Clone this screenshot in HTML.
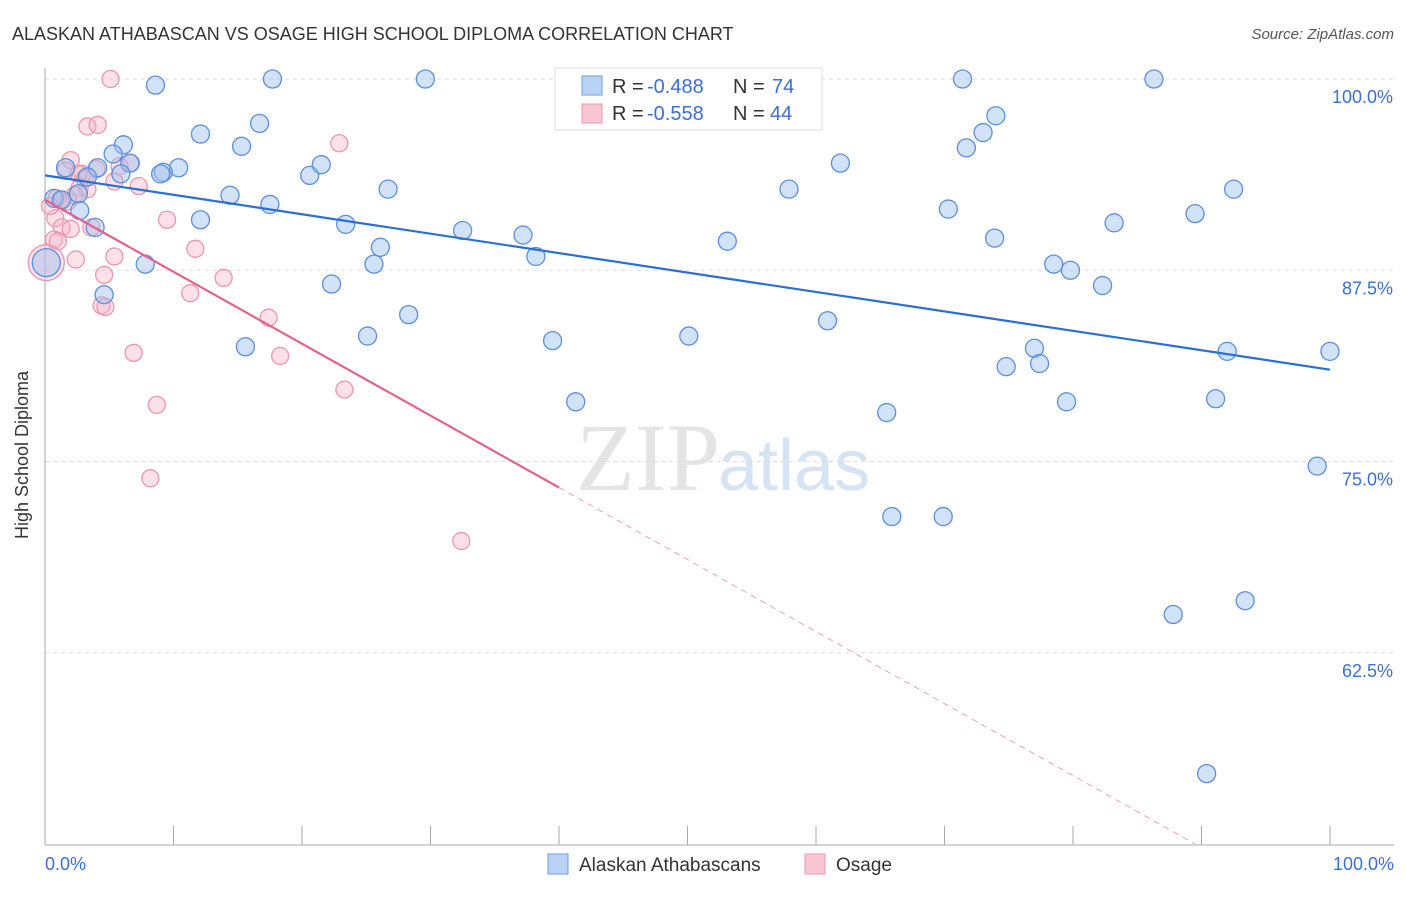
<!DOCTYPE html>
<html><head><meta charset="utf-8"><style>
body{margin:0;background:#fff;font-family:"Liberation Sans",sans-serif}
</style></head><body>
<svg id="chart" width="1406" height="892" xmlns="http://www.w3.org/2000/svg">
<text x="12" y="40" font-size="18" fill="#333">ALASKAN ATHABASCAN VS OSAGE HIGH SCHOOL DIPLOMA CORRELATION CHART</text>
<text x="1394" y="39" font-size="15" fill="#555" font-style="italic" text-anchor="end">Source: ZipAtlas.com</text>
<text x="720" y="490" font-size="96" fill="#e4e4e4" font-family="Liberation Serif,serif" text-anchor="end">ZIP</text>
<text x="718" y="490" font-size="72" fill="#d6e3f5">atlas</text>
<g id="grid"></g>
<g id="axes"></g>
<g id="pts"></g>
<g id="lines"></g>
<text x="28" y="455" font-size="18" fill="#333" text-anchor="middle" transform="rotate(-90 28 455)">High School Diploma</text>
<text x="45" y="870" font-size="18" fill="#3a6fd8">0.0%</text>
<text x="1394" y="870" font-size="18" fill="#3a6fd8" text-anchor="end">100.0%</text>
<g font-size="20">
<rect x="555" y="68" width="267" height="62" fill="#fff" stroke="#ddd"/>
<rect x="582" y="76" width="20" height="19" fill="#b9d2f5" stroke="#6d9de0"/>
<rect x="582" y="104" width="20" height="19" fill="#f9c6d4" stroke="#ec95ae"/>
<text x="612" y="93" fill="#333">R =</text><text x="647" y="93" fill="#3a6fd8">-0.488</text>
<text x="733" y="93" fill="#333">N =</text><text x="772" y="93" fill="#3a6fd8">74</text>
<text x="612" y="120" fill="#333">R =</text><text x="647" y="120" fill="#3a6fd8">-0.558</text>
<text x="733" y="120" fill="#333">N =</text><text x="770" y="120" fill="#3a6fd8">44</text>
</g>
<g>
<rect x="548" y="854" width="20" height="20" fill="#b9d2f5" stroke="#6d9de0"/>
<text x="579" y="871" font-size="19" fill="#333">Alaskan Athabascans</text>
<rect x="805" y="854" width="20" height="20" fill="#f9c6d4" stroke="#ec95ae"/>
<text x="836" y="871" font-size="19" fill="#333">Osage</text>
</g>
</svg>
<script>
const yTicks=[100,87.5,75,62.5];
const yTickLabels=["100.0%","87.5%","75.0%","62.5%"];
const blueX=[8.6,17.7,29.6,71.4,86.3,12.1,16.7,6.1,15.3,5.3,6.6,1.6,4.1,10.4,9.2,9,5.9,3.3,20.6,21.5,61.9,0.7,1.3,2.6,2.7,3.9,14.4,17.5,26.7,57.9,12.1,23.4,32.5,37.2,38.2,26.1,25.6,53.1,70.3,74,73,71.7,89.5,92.5,83.2,73.9,78.5,79.8,82.3,7.8,0.1,4.6,22.3,28.3,25.1,39.5,50.1,60.9,15.6,77,74.8,77.4,92,100,41.3,65.5,79.5,91.1,99,65.9,69.9,87.8,93.4,90.4];
const blueY=[99.6,100,100,100,100,96.4,97.1,95.7,95.6,95.1,94.5,94.2,94.2,94.2,93.9,93.8,93.8,93.6,93.7,94.4,94.5,92.2,92.1,92.5,91.4,90.3,92.4,91.8,92.8,92.8,90.8,90.5,90.1,89.8,88.4,89,87.9,89.4,91.5,97.6,96.5,95.5,91.2,92.8,90.6,89.6,87.9,87.5,86.5,87.9,88,85.9,86.6,84.6,83.2,82.9,83.2,84.2,82.5,82.4,81.2,81.4,82.2,82.2,78.9,78.2,78.9,79.1,74.7,71.4,71.4,65,65.9,54.6];
const blueR=[9,9,9,9,9,9,9,9,9,9,9,9,9,9,9,9,9,9,9,9,9,9,9,9,9,9,9,9,9,9,9,9,9,9,9,9,9,9,9,9,9,9,9,9,9,9,9,9,9,9,14,9,9,9,9,9,9,9,9,9,9,9,9,9,9,9,9,9,9,9,9,9,9,9];
const pinkX=[5.1,3.3,4.1,22.9,6.7,2,2.9,4,1.6,7.3,2.6,2.7,5.4,0.9,1.8,9.5,0.8,1.3,2,3.6,0.7,1,11.7,2.4,5.4,13.9,4.6,11.3,4.4,4.7,17.4,6.9,18.3,23.3,8.7,8.2,32.4,0.1,1.2,3.3,2.3,0.4,3.1,5.8];
const pinkY=[100,96.9,97,95.8,94.5,94.7,93.8,94.1,94,93,93.8,92.9,93.3,92.2,92,90.8,90.9,90.3,90.2,90.3,89.5,89.4,88.9,88.2,88.4,87,87.2,86,85.2,85.1,84.4,82.1,81.9,79.7,78.7,73.9,69.8,88,92.1,92.8,92.4,91.7,93.5,94.3];
const pinkR=[8.5,8.5,8.5,8.5,8.5,8.5,8.5,8.5,8.5,8.5,8.5,8.5,8.5,8.5,8.5,8.5,8.5,8.5,8.5,8.5,8.5,8.5,8.5,8.5,8.5,8.5,8.5,8.5,8.5,8.5,8.5,8.5,8.5,8.5,8.5,8.5,8.5,18,8.5,8.5,8.5,8.5,8.5,8.5];
const blueTrend=[93.7,81.0];
const pinkTrend=[92.1,73.3,50];
const pinkTrendX=[0,40,89.5];
const X=v=>45+v*12.85, Y=v=>79+(100-v)*15.3;
const NS="http://www.w3.org/2000/svg";
function mk(tag,attrs,parent){const e=document.createElementNS(NS,tag);for(const k in attrs)e.setAttribute(k,attrs[k]);document.getElementById(parent).appendChild(e);return e;}
yTicks.forEach((t,i)=>{
 const l=mk('line',{x1:45,x2:1394,y1:Y(t),y2:Y(t),stroke:'#ddd','stroke-dasharray':'4,4'},'grid');
 
 
 const tx=mk('text',{x:1393,y:Y(t)+24,'font-size':18,fill:'#3a6fd8','text-anchor':'end'},'grid');
 tx.textContent=yTickLabels[i];
 
 
});
let a=mk('line',{x1:45,x2:45,y1:68,y2:845,stroke:'#aaa'},'axes');


a=mk('line',{x1:45,x2:1394,y1:845,y2:845,stroke:'#aaa'},'axes');


for(let i=1;i<=10;i++){const t=mk('line',{x1:X(i*10),x2:X(i*10),y1:826,y2:845,stroke:'#aaa'},'axes');
 
 }
pinkX.forEach((v,i)=>{const c=mk('circle',{cx:X(v),cy:Y(pinkY[i]),r:pinkR[i],fill:'rgba(248,180,200,0.4)',stroke:'#ec95ae','stroke-width':1.3},'pts');
 
 });
blueX.forEach((v,i)=>{const c=mk('circle',{cx:X(v),cy:Y(blueY[i]),r:blueR[i],fill:'rgba(155,190,240,0.45)',stroke:'#5b8fdc','stroke-width':1.3},'pts');
 
 });
let ln=mk('line',{x1:X(0),y1:Y(blueTrend[0]),x2:X(100),y2:Y(blueTrend[1]),stroke:'#2a6fd6','stroke-width':2.2},'lines');


ln=mk('line',{x1:X(pinkTrendX[0]),y1:Y(pinkTrend[0]),x2:X(pinkTrendX[1]),y2:Y(pinkTrend[1]),stroke:'#e5628f','stroke-width':2.2},'lines');


ln=mk('line',{x1:X(pinkTrendX[1]),y1:Y(pinkTrend[1]),x2:X(pinkTrendX[2]),y2:Y(pinkTrend[2]),stroke:'#eba0b8','stroke-width':1,'stroke-dasharray':'6,5'},'lines');


</script>
</body></html>
